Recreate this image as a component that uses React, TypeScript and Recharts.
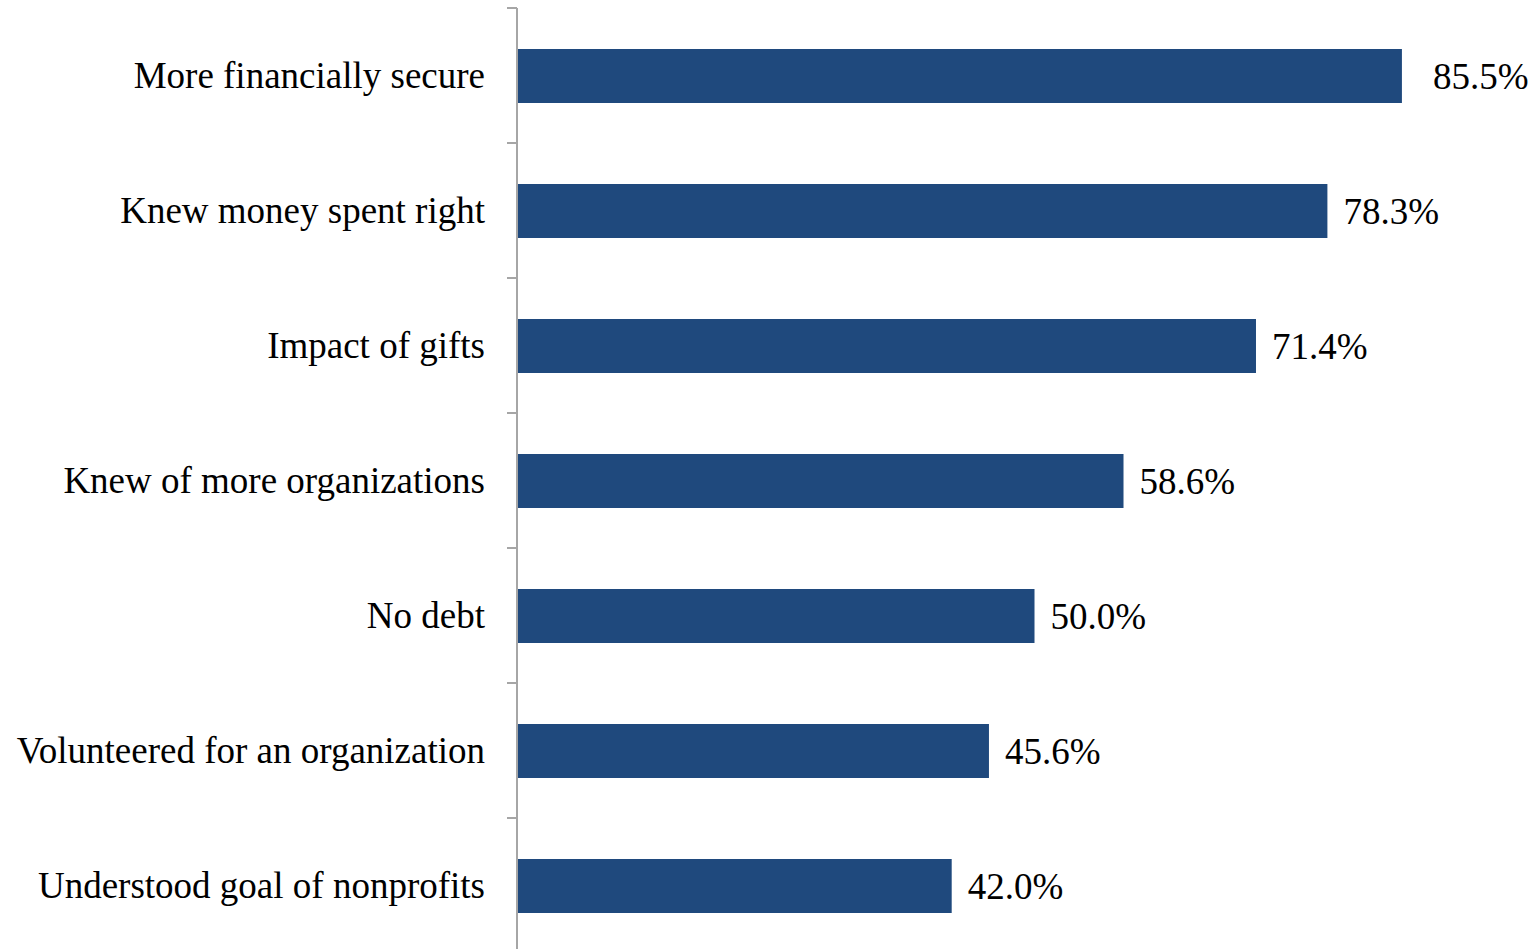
import React from "react";
import { BarChart, Bar, XAxis, YAxis, LabelList } from "recharts";

const categories = [
  "More financially secure",
  "Knew money spent right",
  "Impact of gifts",
  "Knew of more organizations",
  "No debt",
  "Volunteered for an organization",
  "Understood goal of nonprofits",
];

const values = [85.5, 78.3, 71.4, 58.6, 50.0, 45.6, 42.0];

const data = categories.map((name, i) => ({ name, value: values[i] }));

const FONT = '"Liberation Serif", "Times New Roman", serif';
const AXIS_COLOR = "#A6A6A6";
const BAR_COLOR = "#1F497D";

// category tick: label at band centre, tick mark at band top edge
const CategoryTick = (props: any) => {
  const { x, y, payload } = props;
  const half = payload?.offset ?? 67.5;
  const axisX = x + 8; // recharts hands us x minus tickSize+tickMargin
  return (
    <g>
      <line x1={axisX - 10} x2={axisX} y1={y - half} y2={y - half} stroke={AXIS_COLOR} strokeWidth={2} />
      <text
        x={axisX - 32}
        y={y}
        dy="0.35em"
        textAnchor="end"
        fontFamily={FONT}
        fontSize={37}
        fill="#000"
      >
        {payload.value}
      </text>
    </g>
  );
};

const ValueLabel = (props: any) => {
  const { x, y, width, height, value, index } = props;
  const gap = index === 0 ? 31 : 16;
  return (
    <text
      x={x + width + gap}
      y={y + height / 2}
      dy="0.35em"
      textAnchor="start"
      fontFamily={FONT}
      fontSize={37}
      fill="#000"
    >
      {`${Number(value).toFixed(1)}%`}
    </text>
  );
};

export default function App() {
  return (
    <div
      style={{
        position: "absolute",
        left: 0,
        top: 0,
        width: 1537,
        height: 949,
        overflow: "hidden",
        background: "#fff",
      }}
    >
      <BarChart
        width={1560}
        height={960}
        data={data}
        layout="vertical"
        margin={{ top: 8, right: 8, left: 0, bottom: 7 }}
        barCategoryGap={0}
      >
        <XAxis type="number" domain={[0, 100]} hide />
        <YAxis
          type="category"
          dataKey="name"
          width={517}
          axisLine={{ stroke: AXIS_COLOR, strokeWidth: 2 }}
          tickLine={false}
          tick={<CategoryTick />}
          interval={0}
        />
        <Bar dataKey="value" fill={BAR_COLOR} barSize={54} isAnimationActive={false}>
          <LabelList dataKey="value" content={<ValueLabel />} />
        </Bar>
      </BarChart>
    </div>
  );
}
